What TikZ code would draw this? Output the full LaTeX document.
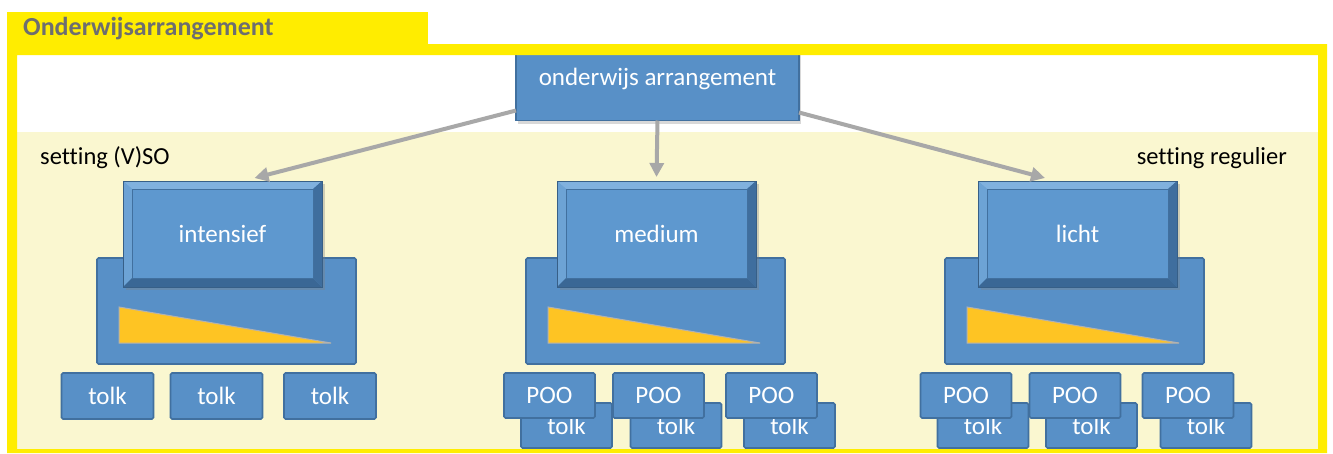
\documentclass[tikz,border=0pt]{standalone}
\usepackage{fontspec}
\setmainfont{Carlito}[Ligatures=NoCommon]
\usetikzlibrary{arrows.meta,shadows,calc}
\definecolor{yel}{HTML}{FFED00}
\definecolor{cream}{HTML}{FAF7D0}
\definecolor{bblue}{HTML}{5890C7}
\definecolor{bedge}{HTML}{41709F}
\definecolor{btop}{HTML}{80B1DE}
\definecolor{bleft}{HTML}{6DA3D5}
\definecolor{bright}{HTML}{3F6E9E}
\definecolor{bbot}{HTML}{3A6795}
\definecolor{bface}{HTML}{5E98CF}
\definecolor{arrowgray}{HTML}{A8A8A8}
\definecolor{tri}{HTML}{FEC423}
\definecolor{titlegray}{HTML}{6D6E70}
\newcommand{\mybevels}[1]{%
 \fill[btop] (#1.north west) -- (#1.north east) -- ([shift={(-9pt,-8pt)}]#1.north east) -- ([shift={(9pt,-8pt)}]#1.north west) -- cycle;
 \fill[bleft] (#1.north west) -- ([shift={(9pt,-8pt)}]#1.north west) -- ([shift={(9pt,9pt)}]#1.south west) -- (#1.south west) -- cycle;
 \fill[bright] (#1.north east) -- ([shift={(-9pt,-8pt)}]#1.north east) -- ([shift={(-9pt,9pt)}]#1.south east) -- (#1.south east) -- cycle;
 \fill[bbot] (#1.south west) -- ([shift={(9pt,9pt)}]#1.south west) -- ([shift={(-9pt,9pt)}]#1.south east) -- (#1.south east) -- cycle;
 \draw[bedge, line width=0.8pt] ([shift={(9pt,-8pt)}]#1.north west) rectangle ([shift={(-9pt,9pt)}]#1.south east);
 \draw[bedge!85!black, line width=1pt] (#1.north west) rectangle (#1.south east);
}
\newcommand{\mytri}[1]{%
 \filldraw[fill=tri, draw=black!30, line width=1pt] ([xshift=22pt]#1.west |- 0,307) -- ([xshift=22pt]#1.west |- 0,343) -- ([xshift=-25pt]#1.east |- 0,343) -- cycle;
}
\begin{document}
\begin{tikzpicture}[x=1pt,y=-1pt,
  lbl/.style={font=\fontsize{25}{28}\selectfont, text=white},
  smallbox/.style={lbl, fill=bblue, draw=bedge, line width=1.6pt, rounded corners=1.5pt, minimum width=91pt, minimum height=45pt, inner sep=0pt, outer sep=0pt},
  bigbox/.style={fill=bblue, draw=bedge, line width=1.6pt, rounded corners=1.5pt, minimum width=259pt, minimum height=106pt, inner sep=0pt, outer sep=0pt},
  bevelbox/.style={lbl, fill=bface, draw=bedge!85!black, line width=1pt, minimum width=199pt, minimum height=106pt, inner sep=0pt, outer sep=0pt, drop shadow={shadow xshift=3pt, shadow yshift=-3pt, opacity=0.35}},
  topbox/.style={lbl, fill=bblue, draw=bedge, line width=1.6pt, minimum width=283pt, minimum height=75pt, inner sep=0pt, outer sep=0pt, drop shadow={shadow xshift=2pt, shadow yshift=-3pt, opacity=0.3}},
  conn/.style={draw=arrowgray, line width=4pt, -{Triangle[length=14pt,width=14pt]}},
  setting/.style={font=\fontsize{24.5}{28}\selectfont, text=black, inner sep=0pt}
]
% backgrounds
\fill[white] (0,0) rectangle (1333,453);
\fill[cream] (17,132) rectangle (1318,449);
% top box
\node[topbox] (top) at (657.5,83) {\raisebox{12pt}{onderwijs arrangement}};
% yellow frame and tab
\fill[yel, even odd rule] (7,44) rectangle (1327,453) (17,55) rectangle (1318,449);
\fill[yel] (7,12) rectangle (428,44);
\node[anchor=west, font=\fontsize{26}{28}\selectfont\bfseries, text=titlegray, inner sep=0pt] (title) at (23,29) {Onderwijsarrangement};
% setting labels
\node[setting, anchor=west] (svso) at (40,158) {setting (V)SO};
\node[setting, anchor=east] (sreg) at (1287,158) {setting regulier};
% big boxes
\node[bigbox] (bigI) at (226.5,311) {};
\node[bigbox] (bigM) at (655.5,311) {};
\node[bigbox] (bigL) at (1074.5,311) {};
\mytri{bigI}
\mytri{bigM}
\mytri{bigL}
% bevel boxes
\node[bevelbox] (intensief) at (222.5,234) {\raisebox{-3pt}{intensief}};
\mybevels{intensief}
\node[bevelbox] (medium) at (656.5,234) {\raisebox{-3pt}{medium}};
\mybevels{medium}
\node[bevelbox] (licht) at (1077.5,234) {\raisebox{-3pt}{licht}};
\mybevels{licht}
% tolk boxes (intensief)
\node[smallbox, minimum width=92pt, minimum height=46pt] (t1) at (107.5,396) {tolk};
\node[smallbox, minimum width=92pt, minimum height=46pt] (t2) at (216.5,396) {tolk};
\node[smallbox, minimum width=92pt, minimum height=46pt] (t3) at (330,396) {tolk};
% medium pairs
\node[smallbox] (mt1) at (566.5,425.5) {\raisebox{-3pt}{tolk}};
\node[smallbox] (mp1) at (549.5,395.5) {POO};
\node[smallbox] (mt2) at (676,425.5) {\raisebox{-3pt}{tolk}};
\node[smallbox] (mp2) at (658.5,395.5) {POO};
\node[smallbox] (mt3) at (789.5,425.5) {\raisebox{-3pt}{tolk}};
\node[smallbox] (mp3) at (771.5,395.5) {POO};
% licht pairs
\node[smallbox] (lt1) at (983,425.5) {\raisebox{-3pt}{tolk}};
\node[smallbox] (lp1) at (966,395.5) {POO};
\node[smallbox] (lt2) at (1091.5,425.5) {\raisebox{-3pt}{tolk}};
\node[smallbox] (lp2) at (1075,395.5) {POO};
\node[smallbox] (lt3) at (1206,425.5) {\raisebox{-3pt}{tolk}};
\node[smallbox] (lp3) at (1188,395.5) {POO};
% connectors
\draw[conn] ([yshift=10pt]top.south west) -- ([xshift=32pt,yshift=3pt]intensief.north);
\draw[conn] (top.south) -- ([yshift=4pt]medium.north);
\draw[conn] ([yshift=8pt]top.south east) -- ([xshift=-32.5pt,yshift=3pt]licht.north);
\end{tikzpicture}
\end{document}
